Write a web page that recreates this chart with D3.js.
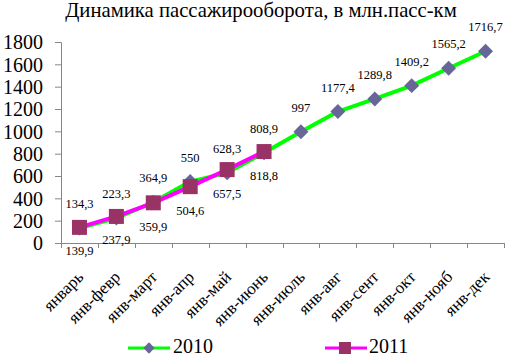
<!DOCTYPE html>
<html><head><meta charset="utf-8">
<script src="https://cdn.jsdelivr.net/npm/d3@7"></script>
<style>body{margin:0;background:#fff}svg{display:block}</style>
</head><body>
<script>
const categories = ["январь","янв-февр","янв-март","янв-апр","янв-май","янв-июнь","янв-июль","янв-авг","янв-сент","янв-окт","янв-нояб","янв-дек"];
const values2010 = [134.3,223.3,364.9,550,628.3,808.9,997,1177.4,1289.8,1409.2,1565.2,1716.7];
const values2011 = [139.9,237.9,359.9,504.6,657.5,818.8];
const yTicks = [0,200,400,600,800,1000,1200,1400,1600,1800];
const seriesNames = ["2010","2011"];
const titleText = "Динамика пассажирооборота, в млн.пасс-км";

const W = 507, H = 356;
const FONT = "Liberation Serif";
const svg = d3.select("body").append("svg").attr("width", W).attr("height", H);

const x = d3.scaleBand().domain(categories).range([61, 504]);
const y = d3.scaleLinear().domain([0, 1800]).range([243, 42]);
const cx = c => x(c) + x.bandwidth() / 2;
const fmt = v => String(v).replace(".", ",");

// title
svg.append("text").attr("x", 261).attr("y", 17).attr("text-anchor", "middle")
  .attr("font-size", 20.7).attr("fill", "#000").text(titleText);

// y axis
const yAxis = d3.axisLeft(y).tickValues(yTicks).tickSize(6).tickPadding(12).tickFormat(d3.format("d"));
const gy = svg.append("g").attr("transform", "translate(61,0)").call(yAxis);
gy.select(".domain").attr("stroke", "#868686").attr("d", "M-6,42.5H0.5V243.5");
gy.selectAll(".tick line").attr("stroke", "#868686");
gy.selectAll(".tick text").attr("font-size", 20).attr("fill", "#000").attr("dy", "0.34em");

// x axis
const bounds = categories.map(c => x(c)).concat([x.range()[1]]);
const gx = svg.append("g");
gx.append("line").attr("x1", 61).attr("x2", 504).attr("y1", 243.5).attr("y2", 243.5).attr("stroke", "#868686");
gx.selectAll("line.tk").data(bounds).join("line").attr("class", "tk")
  .attr("x1", d => Math.round(d) + 0.5).attr("x2", d => Math.round(d) + 0.5)
  .attr("y1", 243).attr("y2", 248).attr("stroke", "#868686");
gx.selectAll("text").data(categories).join("text")
  .attr("transform", c => `translate(${cx(c) + 5},${278}) rotate(-45)`)
  .attr("text-anchor", "end").attr("font-size", 17).attr("fill", "#000").text(c => c);

// lines
const line = d3.line().x((d, i) => cx(categories[i])).y(d => y(d));
svg.append("path").datum(values2010).attr("d", line).attr("fill", "none")
  .attr("stroke", "#00ff00").attr("stroke-width", 4).attr("stroke-linejoin", "round");
svg.append("path").datum(values2011).attr("d", line).attr("fill", "none")
  .attr("stroke", "#ff00ff").attr("stroke-width", 4).attr("stroke-linejoin", "round");

// markers
const diamond = d3.symbol().type(d3.symbolSquare).size(112);
svg.selectAll("path.m10").data(values2010).join("path").attr("class", "m10")
  .attr("d", diamond())
  .attr("transform", (d, i) => `translate(${cx(categories[i])},${y(d)}) rotate(45)`)
  .attr("fill", "#666699");
svg.selectAll("rect.m11").data(values2011).join("rect").attr("class", "m11")
  .attr("x", (d, i) => cx(categories[i]) - 7.5).attr("y", d => y(d) - 7.5)
  .attr("width", 15).attr("height", 15).attr("fill", "#993366");

// data labels
svg.selectAll("text.l10").data(values2010).join("text").attr("class", "l10")
  .attr("x", (d, i) => cx(categories[i])).attr("y", d => y(d) - 20)
  .attr("text-anchor", "middle").attr("font-size", 12.5).attr("fill", "#000").text(fmt);
svg.selectAll("text.l11").data(values2011).join("text").attr("class", "l11")
  .attr("x", (d, i) => cx(categories[i])).attr("y", d => y(d) + 28)
  .attr("text-anchor", "middle").attr("font-size", 12.5).attr("fill", "#000").text(fmt);

// legend
const lg = svg.append("g");
lg.append("line").attr("x1", 128).attr("x2", 170).attr("y1", 348).attr("y2", 348).attr("stroke", "#00ff00").attr("stroke-width", 3);
lg.append("path").attr("d", d3.symbol().type(d3.symbolSquare).size(64)()).attr("transform", "translate(149,348) rotate(45)").attr("fill", "#666699");
lg.append("text").attr("x", 173).attr("y", 353).attr("font-size", 20).text(seriesNames[0]);
lg.append("line").attr("x1", 325).attr("x2", 367).attr("y1", 348).attr("y2", 348).attr("stroke", "#ff00ff").attr("stroke-width", 3);
lg.append("rect").attr("x", 339).attr("y", 342).attr("width", 12).attr("height", 12).attr("fill", "#993366");
lg.append("text").attr("x", 369).attr("y", 353).attr("font-size", 20).text(seriesNames[1]);

// apply serif font to every text
svg.selectAll("text").style("font-family", FONT);
</script>
</body></html>
